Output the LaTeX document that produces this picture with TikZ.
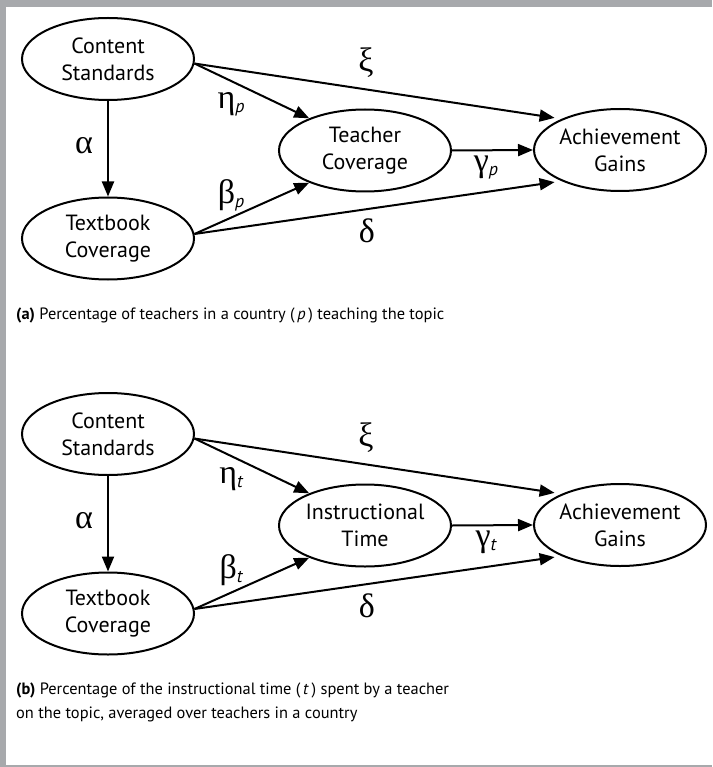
\documentclass[tikz,border=0pt]{standalone}
\usepackage{fontspec}
\setmainfont{PT Sans}
\newfontfamily\grk{Liberation Serif}
\usetikzlibrary{arrows.meta,shapes.geometric}
\newcommand\grklab[2]{{\fontsize{34}{34}\grk #1}\raisebox{-4pt}{\fontsize{18}{18}\selectfont\itshape #2}}
\begin{document}
\begin{tikzpicture}[x=1pt,y=-1pt,
  st/.style={draw, ellipse, line width=2pt, minimum width=172pt, minimum height=82pt,
    align=center, font=\fontsize{22}{27}\selectfont, inner sep=0pt},
  ar/.style={line width=2pt, -{Triangle[length=15pt,width=12pt]}},
  gl/.style={font=\fontsize{34}{34}\grk, inner sep=0pt},
  sl/.style={inner sep=0pt},
  captext/.style={anchor=base west, inner sep=0pt, font=\fontsize{16.4}{24}\selectfont},
  framefill/.style={fill={rgb,255:red,167;green,169;blue,172}, draw=none}
]
\useasboundingbox (0,0) rectangle (712,767);
\fill[white] (0,0) rectangle (712,767);
\fill[framefill] (0,0) rectangle (712,7);
\fill[framefill] (0,0) rectangle (6,767);
\fill[framefill] (0,765) rectangle (712,767);

% ---------- panel (a)
\node[st] (csa) at (108,59) {Content\\Standards};
\node[st] (tba) at (108,238.5) {Textbook\\Coverage};
\node[st] (tca) at (365,150.5) {Teacher\\Coverage};
\node[st] (aga) at (620,150) {Achievement\\Gains};
\draw[ar] (csa.south) -- (tba.north);
\draw[ar] (csa.-3) -- (tca.150);
\draw[ar, shorten >=7pt] (csa.-3) -- (aga.152);
\draw[ar] (tba.3) -- (tca.210);
\draw[ar, shorten >=7pt] (tba.3) -- (aga.208);
\draw[ar] (tca.east) -- (aga.west);
\node[gl] (alphaa) at (84,146) {α};
\node[gl] (xia) at (366,63) {ξ};
\node[gl] (deltaa) at (367,231) {δ};
\node[sl] (etaa) at (231,104) {\grklab{η}{p}};
\node[sl] (betaa) at (231,195) {\grklab{β}{p}};
\node[sl] (gammaa) at (486,167) {\grklab{γ}{p}};
\node[captext] (capa) at (16,319) {\textbf{(a)} Percentage of teachers in a country (\,\textit{p}\,) teaching the topic};

% ---------- panel (b)
\node[st] (csb) at (108,434) {Content\\Standards};
\node[st] (tbb) at (108,613.5) {Textbook\\Coverage};
\node[st] (tcb) at (365,525.5) {Instructional\\Time};
\node[st] (agb) at (620,525) {Achievement\\Gains};
\draw[ar] (csb.south) -- (tbb.north);
\draw[ar] (csb.-3) -- (tcb.150);
\draw[ar, shorten >=7pt] (csb.-3) -- (agb.152);
\draw[ar] (tbb.3) -- (tcb.210);
\draw[ar, shorten >=7pt] (tbb.3) -- (agb.208);
\draw[ar] (tcb.east) -- (agb.west);
\node[gl] (alphab) at (84,521) {α};
\node[gl] (xib) at (366,438) {ξ};
\node[gl] (deltab) at (367,606) {δ};
\node[sl] (etab) at (231,479) {\grklab{η}{t}};
\node[sl] (betab) at (231,570) {\grklab{β}{t}};
\node[sl] (gammab) at (486,542) {\grklab{γ}{t}};
\node[captext] (capb1) at (16,694) {\textbf{(b)} Percentage of the instructional time (\,\textit{t}\,) spent by a teacher};
\node[captext] (capb2) at (16,718) {on the topic, averaged over teachers in a country};
\end{tikzpicture}
\end{document}
